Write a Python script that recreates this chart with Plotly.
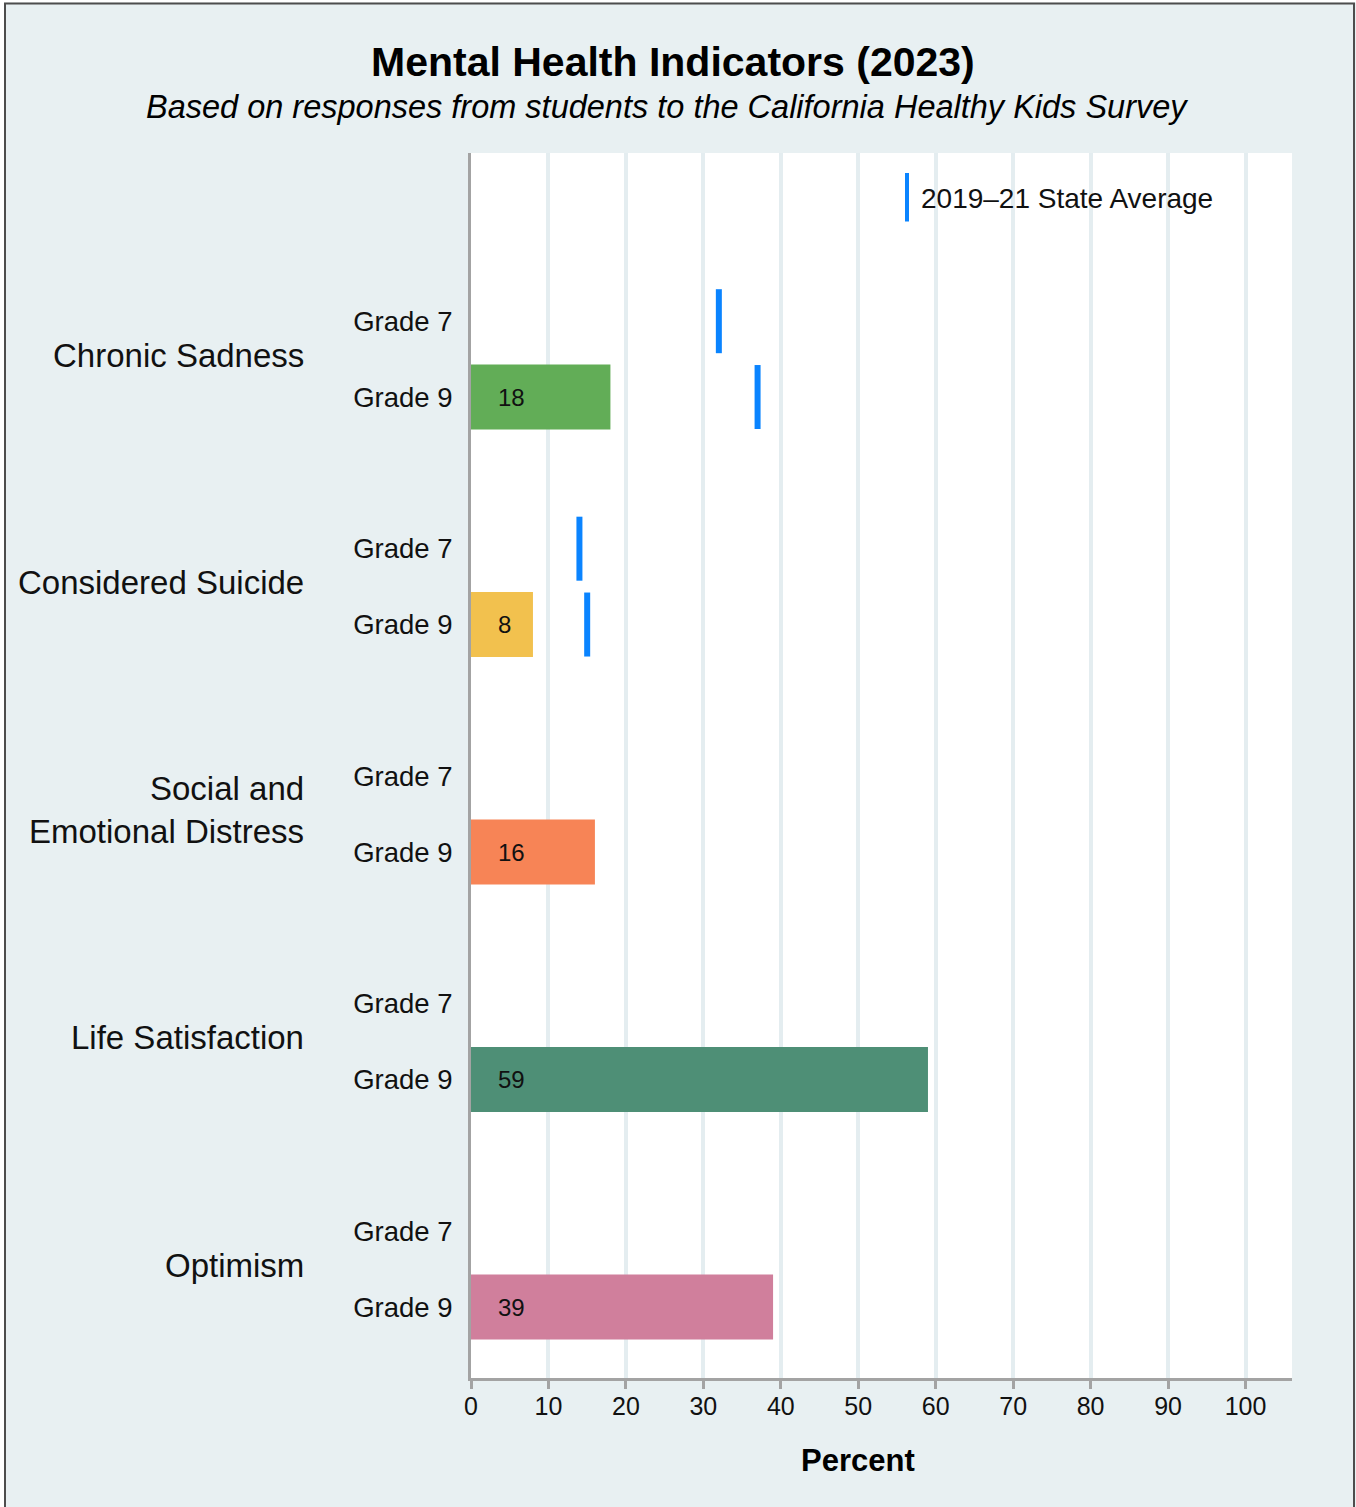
import plotly.graph_objects as go

# ---------------- data ----------------
indicators = ["Chronic Sadness", "Considered Suicide", "Social and<br>Emotional Distress",
              "Life Satisfaction", "Optimism"]
grades = ["Grade 7", "Grade 9"]
grade7_values = [None, None, None, None, None]
grade9_values = [18, 8, 16, 59, 39]
state_avg_grade7 = [32, 14, None, None, None]
state_avg_grade9 = [37, 15, None, None, None]
bar_colors = ["#62AD57", "#F2C14E", "#F78456", "#4E8F76", "#D07F9C"]
x_ticks = [0, 10, 20, 30, 40, 50, 60, 70, 80, 90, 100]
legend_label = "2019\u201321 State Average"
title_text = "Mental Health Indicators (2023)"
subtitle_text = "Based on responses from students to the California Healthy Kids Survey"
x_title = "Percent"

# ---------------- layout helpers ----------------
FONT = "Liberation Sans, Arial, Helvetica, sans-serif"
W, H = 1356, 1507
ML, MR, MT, MB = 471, 64, 153, 129
PW, PH = W - ML - MR, H - MT - MB
BG = "#E8F0F2"
TXT = "#111111"
AXIS = "#A3A3A3"
BLUE = "#0A84FF"

n = len(indicators)
pos_g7 = [(n - 1 - i) * 3 + 1 for i in range(n)]
pos_g9 = [(n - 1 - i) * 3 for i in range(n)]


def px_x(px):
    return (px - ML) / PW


def px_y(py):
    return (H - MB - py) / PH


fig = go.Figure()

# grade 9 bars
fig.add_trace(go.Bar(
    x=grade9_values, y=pos_g9, orientation="h",
    marker=dict(color=bar_colors, line=dict(width=0)),
    width=0.857, showlegend=False, hoverinfo="x",
))
# grade 7 bars (no data)
fig.add_trace(go.Bar(
    x=grade7_values, y=pos_g7, orientation="h",
    marker=dict(color=bar_colors, line=dict(width=0)),
    width=0.857, showlegend=False, hoverinfo="x",
))

# state average marks
sx, sy = [], []
for i in range(n):
    if state_avg_grade7[i] is not None:
        sx.append(state_avg_grade7[i]); sy.append(pos_g7[i])
    if state_avg_grade9[i] is not None:
        sx.append(state_avg_grade9[i]); sy.append(pos_g9[i])
fig.add_trace(go.Scatter(
    x=sx, y=sy, mode="markers", showlegend=False,
    marker=dict(symbol="line-ns", size=64 / 1.4, line=dict(width=6, color=BLUE), color=BLUE),
))

annotations = []
# bar value labels
for i in range(n):
    if grade9_values[i] is not None:
        annotations.append(dict(x=0, y=pos_g9[i], xref="x", yref="y", text=str(grade9_values[i]),
                                showarrow=False, xanchor="left", yanchor="middle", xshift=25,
                                font=dict(family=FONT, size=24, color=TXT)))
    if grade7_values[i] is not None:
        annotations.append(dict(x=0, y=pos_g7[i], xref="x", yref="y", text=str(grade7_values[i]),
                                showarrow=False, xanchor="left", yanchor="middle", xshift=25,
                                font=dict(family=FONT, size=24, color=TXT)))
# group labels
for i in range(n):
    annotations.append(dict(x=px_x(306), y=(pos_g7[i] + pos_g9[i]) / 2, xref="paper", yref="y",
                            text=indicators[i], showarrow=False, xanchor="right", yanchor="middle",
                            align="right", yshift=4,
                            font=dict(family=FONT, size=33, color=TXT)))
# title & subtitle
annotations.append(dict(x=px_x(673), y=px_y(62), xref="paper", yref="paper",
                        text="<b>" + title_text + "</b>", showarrow=False,
                        xanchor="center", yanchor="middle",
                        font=dict(family=FONT, size=41, color="#000000")))
annotations.append(dict(x=px_x(667), y=px_y(107), xref="paper", yref="paper",
                        text="<i>" + subtitle_text + "</i>", showarrow=False,
                        xanchor="center", yanchor="middle",
                        font=dict(family=FONT, size=32.5, color="#000000")))
# x axis title
annotations.append(dict(x=50, y=px_y(1460), xref="x", yref="paper",
                        text="<b>" + x_title + "</b>", showarrow=False,
                        xanchor="center", yanchor="middle",
                        font=dict(family=FONT, size=31, color="#000000")))
# legend text
annotations.append(dict(x=px_x(919), y=px_y(198), xref="paper", yref="paper",
                        text=legend_label, showarrow=False, xanchor="left", yanchor="middle",
                        font=dict(family=FONT, size=28, color=TXT)))

shapes = [
    # white page strips outside the border
    dict(type="rect", xref="paper", yref="paper", x0=px_x(-5), x1=px_x(4), y0=px_y(1520), y1=px_y(-5),
         fillcolor="white", line=dict(width=0), layer="above"),
    dict(type="rect", xref="paper", yref="paper", x0=px_x(-5), x1=px_x(1360), y0=px_y(2.5), y1=px_y(-5),
         fillcolor="white", line=dict(width=0), layer="above"),
    # border
    dict(type="rect", xref="paper", yref="paper", x0=px_x(5), x1=px_x(1354), y0=px_y(1512), y1=px_y(3.5),
         line=dict(color="#4D4D4D", width=2), layer="above"),
    # legend symbol
    dict(type="line", xref="paper", yref="paper", x0=px_x(907), x1=px_x(907), y0=px_y(221.5), y1=px_y(173),
         line=dict(color=BLUE, width=4), layer="above"),
]

fig.update_layout(
    width=W, height=H,
    margin=dict(l=ML, r=MR, t=MT, b=MB, pad=0),
    paper_bgcolor=BG, plot_bgcolor="white",
    barmode="overlay", showlegend=False,
    font=dict(family=FONT, color=TXT),
    annotations=annotations, shapes=shapes,
    xaxis=dict(range=[0, 106], tickvals=x_ticks, ticktext=[str(v) for v in x_ticks],
               showgrid=True, gridcolor="#E4EDF0", gridwidth=3.5, zeroline=False,
               showline=True, linecolor=AXIS, linewidth=3,
               ticks="outside", ticklen=8, tickwidth=2.5, tickcolor=AXIS,
               ticklabelstandoff=-4,
               tickfont=dict(family=FONT, size=25, color=TXT), fixedrange=True),
    yaxis=dict(range=[-0.936, 15.218], tickvals=pos_g7 + pos_g9,
               ticktext=[grades[0]] * n + [grades[1]] * n,
               showgrid=False, zeroline=False, showline=True, linecolor=AXIS, linewidth=3,
               ticks="", ticklabelstandoff=10,
               tickfont=dict(family=FONT, size=27.5, color=TXT), fixedrange=True),
)

fig.write_html("out.html")
